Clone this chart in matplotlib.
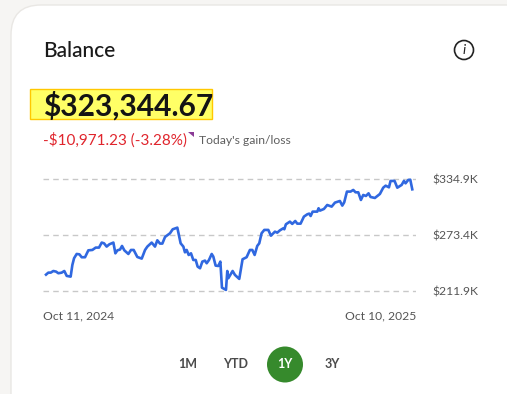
import matplotlib
matplotlib.use("Agg")
import matplotlib.pyplot as plt
from matplotlib.patches import Circle, FancyBboxPatch, Polygon, Rectangle

plt.rcParams['font.family'] = ['Lato', 'DejaVu Sans']

# days since Oct 11, 2024 and balance in $K
days = [0, 2.3, 4.7, 7.3, 10, 12.3, 15.6, 18.2, 20.6, 24.5, 26.2, 27.9, 30.5, 33.2, 35.5, 38.8,
        42.1, 46.1, 49.4, 52.7, 55.4, 57.7, 60.3, 63, 67, 69, 71, 73.6, 75.6, 77.9, 81.9, 84.5,
        87.2, 90.8, 95.2, 98.5, 100.8, 105.1, 108.4, 110.7, 113.4, 115.7, 118.4, 123.3, 126, 130.6,
        133.9, 136.6, 138.2, 139.9, 141.9, 144.2, 146.5, 148.9, 150.8, 153.2, 155.5, 158.1, 159.8,
        162.1, 164.8, 166.4, 168.7, 171.4, 173.4, 175, 179, 180.3, 181.3, 185.6, 187.9, 192.2,
        195.5, 199.5, 202.8, 205.2, 207.5, 210.1, 212.1, 214.4, 217.1, 221.1, 223.7, 227.7, 230,
        232.7, 236, 237, 238.6, 242.6, 244.9, 247.9, 249.9, 253.2, 256.5, 259.9, 261.8, 263.2,
        265.2, 269.8, 271.1, 272.5, 276.4, 279.7, 284.1, 287.4, 292.3, 294.7, 296.6, 299.3, 302.9,
        305.6, 307.9, 310.6, 313.2, 315.5, 318.2, 320.8, 322.8, 327.1, 332.1, 335.4, 337.8, 341.1,
        342.7, 346.7, 349.4, 353.7, 356, 357.6, 360.3, 362.3, 364.3]
balance = [230.2, 232.4, 232.4, 234.2, 233.5, 231.7, 232.4, 234.2, 228.8, 228, 240.8, 248.2, 252.9, 252.5, 249.3, 249.3,
           256.9, 257.3, 259.9, 259.9, 265.4, 264.6, 261, 263.5, 265.4, 253.6, 256.9, 257.7, 261.7, 256.9, 252.9, 257.3,
           257.3, 249.6, 247.8, 257.3, 261, 265.4, 261, 267.9, 264.3, 264.3, 271.6, 275.6, 280, 281.8,
           264.6, 261, 254.7, 257.3, 251.8, 253.6, 246.3, 246.3, 239, 237.2, 244.5, 245.6, 242.7,
           246.3, 252.9, 250, 240.1, 239.7, 244.5, 215.9, 213.4, 234.2, 226.2, 234.2, 229.9, 225.5,
           247.1, 249.3, 257.3, 257.3, 251.8, 261.7, 264.6, 275.6, 279.3, 279.3, 273, 277.4, 276.3,
           278.9, 281.1, 280, 285.5, 288.4, 285.9, 289.1, 286.2, 286.2, 293.9, 296.5, 297.2, 294.6,
           299.4, 299.4, 303.1, 300.5, 302.3, 306.7, 304.9, 309.3, 311.1, 306, 309.6, 321.4, 321.4,
           323.2, 320.6, 320.6, 312.2, 317.7, 316.6, 319.5, 315.5, 314.4, 318.8, 325.7, 327.9, 326.1,
           333.1, 333.1, 325.7, 328.7, 333.1, 330.5, 334.2, 334.5, 323.9]
y_ticks = [211.9, 273.4, 334.9]
y_labels = ["$211.9K", "$273.4K", "$334.9K"]
date_labels = ["Oct 11, 2024", "Oct 10, 2025"]
ranges = ["1M", "YTD", "1Y", "3Y"]
range_x = [188, 236, 285, 332]

W, H = 507, 394
fig = plt.figure(figsize=(W / 100, H / 100), dpi=100, facecolor="#f6f5f3")

# page layer in pixel coordinates
bg = fig.add_axes([0, 0, 1, 1])
bg.set_xlim(0, W)
bg.set_ylim(H, 0)
bg.axis("off")

bg.add_patch(FancyBboxPatch((11, 5), 540, 480, boxstyle="round,pad=0,rounding_size=30",
                            fc="white", ec="#e9e7e4", lw=1))
bg.add_patch(Rectangle((29.5, 88.5), 182, 30, fc="#ffff66", ec="#ffc800", lw=1))

bg.text(43, 51, "Balance", fontsize=15, color="#1a1a1a", va="center", fontweight="medium")
bg.text(43, 106, "$323,344.67", fontsize=21.6, color="#141414", va="center", fontweight="bold")
bg.text(43, 140, "-$10,971.23 (-3.28%)", fontsize=11, color="#e0252d", va="center")
bg.add_patch(Polygon([[188, 132], [194, 132], [194, 137]], fc="#8a3a96", ec="none"))
bg.text(199, 140, "Today's gain/loss", fontsize=8.7, color="#5f5f5f", va="center")

bg.add_patch(Circle((464, 50), 9.5, fc="none", ec="#222222", lw=1.2))
bg.text(464, 50, "i", fontsize=10, color="#222222", ha="center", va="center", style="italic")

bg.add_patch(Circle((285, 364.5), 18, fc="#368a2c", ec="none"))
for name, x in zip(ranges, range_x):
    col = "white" if name == "1Y" else "#4a4a4a"
    bg.text(x, 364.5, name, fontsize=9, color=col, ha="center", va="center", fontweight="bold")

for lab, x, ha in zip(date_labels, [43, 416], ["left", "right"]):
    bg.text(x, 315.5, lab, fontsize=8.7, color="#555555", ha=ha, va="center")

# chart, axes run 3 px past the outer gridlines so they are not clipped
ax = fig.add_axes([43 / W, 1 - 294.3 / H, 373 / W, 118 / H])
ax.patch.set_alpha(0)
ax.set_xlim(-3, 368)
ax.set_ylim(208.6, 338.2)
for s in ax.spines.values():
    s.set_visible(False)
ax.set_xticks([])
ax.yaxis.tick_right()
ax.set_yticks(y_ticks)
ax.set_yticklabels(y_labels, fontsize=8.7, color="#555555")
ax.tick_params(axis="y", length=0, pad=12)
ax.grid(axis="y", color="#c8c8c8", lw=1, ls=(0, (4, 3)))
ax.set_axisbelow(True)
ax.plot(days, balance, color="#3068e0", lw=1.9, solid_joinstyle="round", clip_on=False)

fig.savefig("out.png", dpi=100, facecolor=fig.get_facecolor())
